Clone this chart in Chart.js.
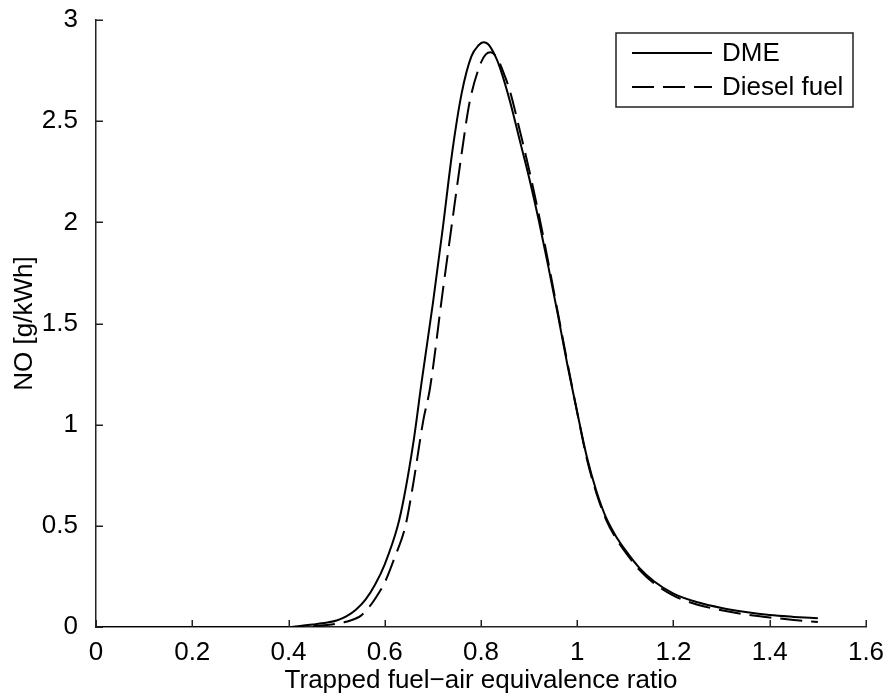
<!DOCTYPE html>
<html>
<head>
<meta charset="utf-8">
<style>
  html, body { margin: 0; padding: 0; background: #fff; }
  #wrap { width: 887px; height: 697px; }
</style>
<script src="https://cdn.jsdelivr.net/npm/chart.js@4/dist/chart.umd.min.js"></script>
</head>
<body>
<div id="wrap"><canvas id="c" width="887" height="697"></canvas></div>
<script>
// ---- data ----
const xTicks = [0, 0.2, 0.4, 0.6, 0.8, 1, 1.2, 1.4, 1.6];
const yTicks = [0, 0.5, 1, 1.5, 2, 2.5, 3];

const dmeX = [0, 0.40, 0.42, 0.45, 0.48, 0.50, 0.52, 0.54, 0.56, 0.58, 0.60, 0.627, 0.64, 0.66, 0.676, 0.70, 0.72, 0.741, 0.76, 0.78, 0.795, 0.805, 0.815, 0.83, 0.84, 0.86, 0.88, 0.90, 0.92, 0.94, 0.96, 0.98, 1.00, 1.02, 1.04, 1.06, 1.08, 1.10, 1.13, 1.16, 1.20, 1.25, 1.30, 1.35, 1.40, 1.45, 1.50];
const dmeY = [0, 0, 0.004, 0.012, 0.022, 0.032, 0.052, 0.085, 0.135, 0.21, 0.31, 0.5, 0.64, 0.92, 1.2, 1.6, 1.96, 2.36, 2.64, 2.82, 2.875, 2.89, 2.88, 2.82, 2.76, 2.6, 2.41, 2.22, 2.01, 1.78, 1.54, 1.29, 1.06, 0.84, 0.67, 0.54, 0.45, 0.38, 0.29, 0.225, 0.165, 0.122, 0.094, 0.074, 0.059, 0.05, 0.043];

const dieselX = [0, 0.42, 0.45, 0.48, 0.50, 0.52, 0.55, 0.568, 0.58, 0.60, 0.62, 0.643, 0.66, 0.68, 0.694, 0.72, 0.74, 0.761, 0.776, 0.80, 0.81, 0.82, 0.834, 0.85, 0.86, 0.88, 0.90, 0.92, 0.94, 0.96, 0.98, 1.00, 1.02, 1.04, 1.06, 1.08, 1.10, 1.13, 1.16, 1.20, 1.25, 1.30, 1.35, 1.40, 1.45, 1.50];
const dieselY = [0, 0, 0.004, 0.01, 0.016, 0.026, 0.055, 0.1, 0.14, 0.22, 0.34, 0.5, 0.72, 1.02, 1.18, 1.65, 2.0, 2.36, 2.59, 2.79, 2.83, 2.84, 2.81, 2.72, 2.65, 2.46, 2.26, 2.04, 1.80, 1.55, 1.30, 1.06, 0.83, 0.66, 0.53, 0.44, 0.37, 0.28, 0.215, 0.155, 0.11, 0.083, 0.062, 0.047, 0.035, 0.025];

const seriesNames = ['DME', 'Diesel fuel'];

// ---- chart ----
const AXIS = '#222';
const FONT = '"Liberation Sans", Arial, Helvetica, sans-serif';
const FS = 26;

const pts = (xs, ys) => xs.map((x, i) => ({ x: x, y: ys[i] }));

const inwardTicksAndLegend = {
  id: 'inwardTicksAndLegend',
  afterDraw(chart) {
    const { ctx, chartArea: { left, bottom }, scales: { x, y } } = chart;
    ctx.save();
    ctx.strokeStyle = AXIS;
    ctx.lineWidth = 1.5;
    ctx.beginPath();
    xTicks.forEach(v => {
      const px = Math.round(x.getPixelForValue(v)) + 0.25;
      ctx.moveTo(px, bottom);
      ctx.lineTo(px, bottom - 7);
    });
    yTicks.forEach(v => {
      const py = Math.round(y.getPixelForValue(v)) + 0.25;
      ctx.moveTo(left, py);
      ctx.lineTo(left + 7, py);
    });
    ctx.stroke();

    // legend box
    const bx = 616, by = 33, bw = 237, bh = 74;
    ctx.fillStyle = '#fff';
    ctx.fillRect(bx, by, bw, bh);
    ctx.lineWidth = 1.5;
    ctx.strokeStyle = AXIS;
    ctx.strokeRect(bx, by, bw, bh);
    const rows = [53, 87];
    chart.data.datasets.forEach((ds, i) => {
      ctx.beginPath();
      ctx.strokeStyle = ds.borderColor;
      ctx.lineWidth = ds.borderWidth;
      ctx.setLineDash(ds.borderDash || []);
      ctx.moveTo(632, rows[i]);
      ctx.lineTo(712, rows[i]);
      ctx.stroke();
      ctx.setLineDash([]);
      ctx.fillStyle = '#000';
      ctx.font = FS + 'px ' + FONT;
      ctx.textBaseline = 'middle';
      ctx.textAlign = 'left';
      ctx.fillText(ds.label, 722, rows[i] + 1);
    });
    ctx.restore();
  }
};

new Chart(document.getElementById('c'), {
  type: 'line',
  data: {
    datasets: [
      { label: seriesNames[0], data: pts(dmeX, dmeY), borderColor: '#000', borderWidth: 2, pointRadius: 0, cubicInterpolationMode: 'monotone', fill: false },
      { label: seriesNames[1], data: pts(dieselX, dieselY), borderColor: '#000', borderWidth: 2, borderDash: [22, 9], pointRadius: 0, cubicInterpolationMode: 'monotone', fill: false }
    ]
  },
  options: {
    responsive: false,
    animation: false,
    layout: { padding: { left: 0, top: 20, right: 21, bottom: 0 } },
    plugins: { legend: { display: false }, tooltip: { enabled: false } },
    scales: {
      x: {
        type: 'linear', min: 0, max: 1.6,
        afterBuildTicks: s => { s.ticks = xTicks.map(v => ({ value: v })); },
        afterFit: s => { s.height = 70; s.paddingLeft = 0; s.paddingRight = 0; },
        grid: { display: false },
        border: { display: true, color: AXIS, width: 1.5 },
        ticks: { color: '#000', font: { family: FONT, size: FS }, padding: 2, maxRotation: 0, callback: v => String(+v.toFixed(1)) },
        title: { display: true, text: 'Trapped fuel\u2212air equivalence ratio', color: '#000', font: { family: FONT, size: FS }, padding: { top: 0, bottom: 1 } }
      },
      y: {
        type: 'linear', min: 0, max: 3,
        afterBuildTicks: s => { s.ticks = yTicks.map(v => ({ value: v })); },
        afterFit: s => { s.width = 96; s.paddingTop = 0; s.paddingBottom = 0; },
        grid: { display: false },
        border: { display: true, color: AXIS, width: 1.5 },
        ticks: { color: '#000', font: { family: FONT, size: FS }, padding: 10, callback: v => String(+v.toFixed(1)) },
        title: { display: true, text: 'NO [g/kWh]', color: '#000', font: { family: FONT, size: FS }, padding: { top: 9, bottom: 0 } }
      }
    }
  },
  plugins: [inwardTicksAndLegend]
});
</script>
</body>
</html>
